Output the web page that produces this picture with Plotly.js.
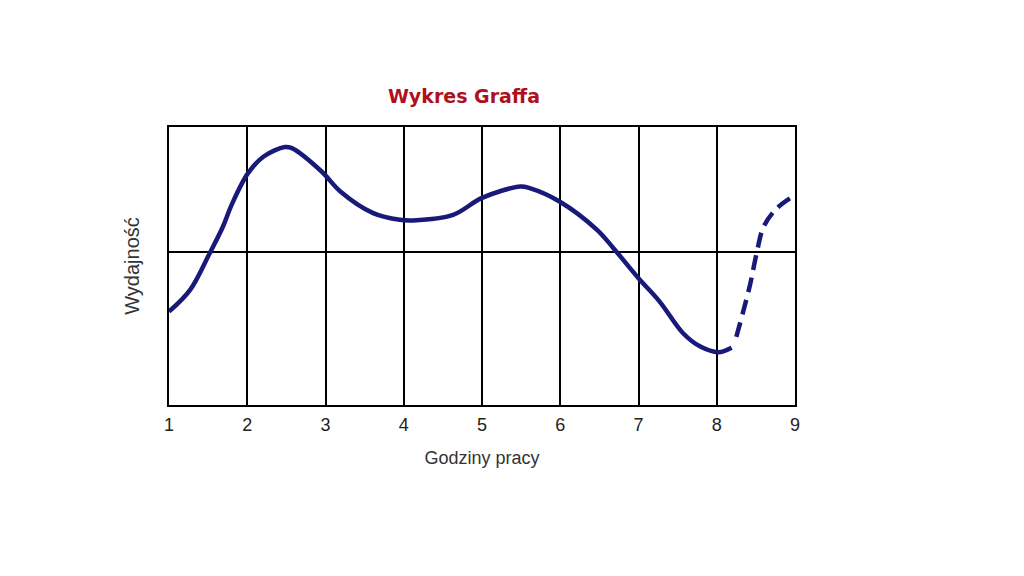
<!DOCTYPE html>
<html>
<head>
<meta charset="utf-8">
<script src="https://cdn.plot.ly/plotly-3.0.1.min.js"></script>
<style>
  html, body { margin: 0; padding: 0; background: #fff; }
  #chart { width: 1024px; height: 576px; }
</style>
</head>
<body>
<div id="chart"></div>
<script>
/* Graff curve: work performance over working hours */
var hourTicks = [1, 2, 3, 4, 5, 6, 7, 8, 9];
var tickLabels = ['1', '2', '3', '4', '5', '6', '7', '8', '9'];

/* solid part (hours 1 - ~8.2) */
var workHours = [1, 1.27, 1.52, 1.69, 1.8, 2.01, 2.21, 2.48, 2.57, 2.95, 3.19, 3.61, 3.95, 4.12,
                 4.63, 5.0, 5.49, 5.61, 5.99, 6.47, 6.68, 7.0, 7.27, 7.57, 7.79, 8.02, 8.19];
var performance = [33.6, 41.4, 54.6, 64.2, 72.0, 83.4, 89.4, 92.8, 92.4, 84.0, 76.8, 69.0, 66.6, 66.4,
                   68.4, 74.5, 78.6, 78.0, 73.2, 63.0, 56.4, 45.6, 37.2, 25.8, 21.0, 19.0, 20.6];

/* dashed part (overtime) */
var extraHours = [8.25, 8.42, 8.51, 8.6, 8.77, 8.96];
var extraPerformance = [24.5, 42.6, 54.6, 64.2, 70.8, 74.8];

var midLevel = 55;

var navy = '#19197a';
var fontFamily = '"Liberation Sans", Arial, sans-serif';

var traces = [
  {
    x: workHours, y: performance,
    mode: 'lines',
    line: { color: navy, width: 4.5, shape: 'spline', smoothing: 1 },
    hoverinfo: 'skip', showlegend: false
  },
  {
    x: extraHours, y: extraPerformance,
    mode: 'lines',
    line: { color: navy, width: 4.5, shape: 'spline', smoothing: 1, dash: '15px,8px' },
    hoverinfo: 'skip', showlegend: false
  }
];

var layout = {
  width: 1024, height: 576,
  margin: { l: 169, r: 229, t: 127, b: 171 },
  paper_bgcolor: '#ffffff',
  plot_bgcolor: '#ffffff',
  title: {
    text: '<b>Wykres Graffa</b>',
    font: { family: '"DejaVu Sans", sans-serif', size: 19, color: '#b0101c' },
    x: 464 / 1024, xref: 'container', xanchor: 'center',
    y: 1 - 96 / 576, yref: 'container', yanchor: 'middle'
  },
  xaxis: {
    range: [1, 9],
    tickvals: hourTicks, ticktext: tickLabels,
    tickfont: { family: fontFamily, size: 18, color: '#222222' },
    ticklabelstandoff: 2,
    showgrid: true, gridcolor: '#000000', gridwidth: 2,
    showline: true, linecolor: '#000000', linewidth: 2, mirror: true,
    zeroline: false, ticks: '',
    title: { text: 'Godziny pracy', font: { family: fontFamily, size: 18, color: '#333333' }, standoff: 18 },
    fixedrange: true
  },
  yaxis: {
    range: [0, 100],
    tickvals: [midLevel], showticklabels: false,
    showgrid: true, gridcolor: '#000000', gridwidth: 2,
    showline: true, linecolor: '#000000', linewidth: 2, mirror: true,
    zeroline: false, ticks: '',
    title: { text: 'Wydajność', font: { family: fontFamily, size: 20, color: '#333333' }, standoff: 22 },
    fixedrange: true
  },
  showlegend: false
};

Plotly.newPlot('chart', traces, layout, { displayModeBar: false, staticPlot: true });
</script>
</body>
</html>
